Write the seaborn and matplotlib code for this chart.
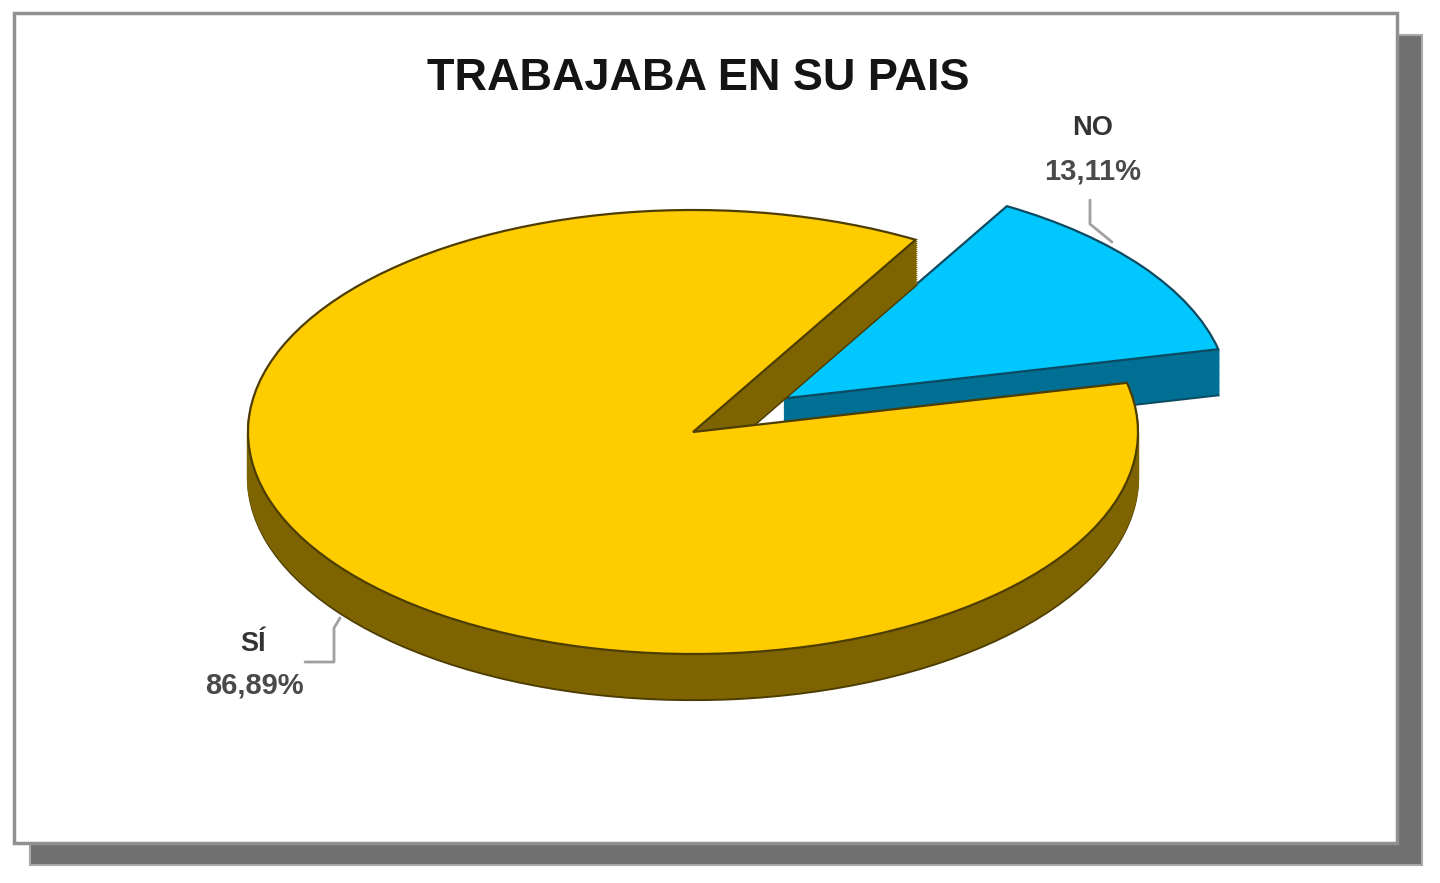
import numpy as np
import matplotlib
matplotlib.use('Agg')
import matplotlib.pyplot as plt
from matplotlib.patches import Rectangle
from matplotlib.lines import Line2D
import seaborn as sns

title = 'TRABAJABA EN SU PAIS'
labels = ['NO', 'SÍ']
values = [13.11, 86.89]
pct_labels = ['13,11%', '86,89%']
top_colors = ['#00c8ff', '#ffcc00']
side_colors = ['#006f94', '#7d6400']
line_colors = ['#0b4a60', '#4d3d00']

W, H = 1440, 883
cx, cy = 693, 432     # pie centre in pixels
rx, ry = 445, 222     # pie radii in pixels
depth = 46

sns.set_theme(style='white')
plt.rcParams['font.family'] = ['Liberation Sans', 'DejaVu Sans']

fig = plt.figure(figsize=(W / 100, H / 100), dpi=100, facecolor='white')


def fx(px):
    return px / W


def fy(py):
    return 1 - py / H


def box(x0, y0, x1, y1, **kw):
    fig.patches.append(Rectangle((fx(x0), fy(y1)), (x1 - x0) / W, (y1 - y0) / H,
                                 transform=fig.transFigure, **kw))


box(30, 35, 1422, 865, facecolor='#707070', edgecolor='#a8a8a8', linewidth=1.5, zorder=0)
box(14, 13, 1397, 843, facecolor='white', edgecolor='#909090', linewidth=2.5, zorder=1)

ax = fig.add_axes([0, 0, 1, 1], zorder=2)
ax.patch.set_alpha(0)


def draw_slice(i, offset, color, edge):
    # full pie through the library, only one slice kept
    wedges, _ = ax.pie(values, startangle=12.8, counterclock=True, explode=[0.255, 0],
                       colors=[color, color], center=(0, -offset),
                       wedgeprops={'edgecolor': edge, 'linewidth': 1.6})
    wedges[1 - i].remove()
    return wedges[i]


for i in [0, 1]:
    steps = np.linspace(depth / ry, 0, 24)
    draw_slice(i, steps[0], side_colors[i], line_colors[i])
    for s in steps[1:-1]:
        draw_slice(i, s, side_colors[i], side_colors[i])
    draw_slice(i, 0, top_colors[i], line_colors[i])

# pie() forces an equal aspect, the tilt comes from the squashed limits
ax.set_aspect('auto')
ax.set_xlim(-cx / rx, (W - cx) / rx)
ax.set_ylim((cy - H) / ry, cy / ry)
ax.axis('off')

fig.text(fx(698), fy(79), title, fontsize=32.4, fontweight='bold', color='#141414',
         ha='center', va='center', zorder=5)
fig.text(fx(1093), fy(128), labels[0], fontsize=19.5, fontweight='bold', color='#333333',
         ha='center', va='center', zorder=5)
fig.text(fx(1093), fy(171), pct_labels[0], fontsize=21, fontweight='bold', color='#4a4a4a',
         ha='center', va='center', zorder=5)
fig.text(fx(253), fy(644), labels[1], fontsize=19.5, fontweight='bold', color='#333333',
         ha='center', va='center', zorder=5)
fig.text(fx(254), fy(686), pct_labels[1], fontsize=21, fontweight='bold', color='#4a4a4a',
         ha='center', va='center', zorder=5)

for xs, ys in [([1090, 1090, 1112], [200, 224, 242]),
               ([305, 334, 334, 340], [662, 662, 628, 618])]:
    fig.add_artist(Line2D([fx(x) for x in xs], [fy(y) for y in ys], color='#a0a0a0',
                          linewidth=2, zorder=4))

fig.savefig('out.png', dpi=100, facecolor='white')
